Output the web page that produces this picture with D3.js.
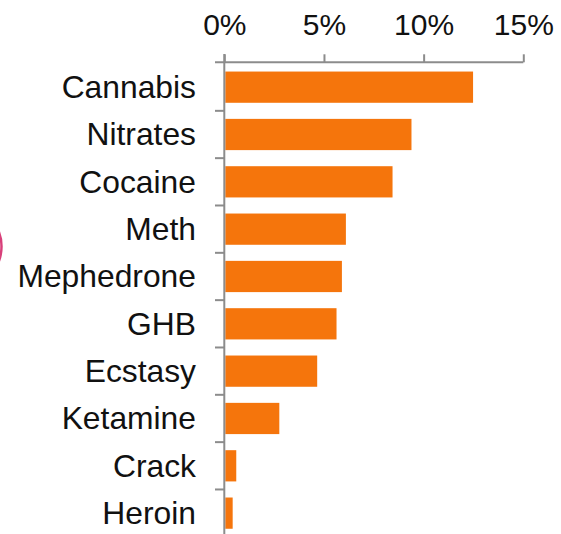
<!DOCTYPE html>
<html><head><meta charset="utf-8">
<script src="https://cdn.jsdelivr.net/npm/d3@7"></script>
<style>body{margin:0;background:#fff}svg{display:block}</style>
</head><body>
<svg id="c" width="561" height="534"></svg>
<script>
const categories = ["Cannabis","Nitrates","Cocaine","Meth","Mephedrone","GHB","Ecstasy","Ketamine","Crack","Heroin"];
const values = [12.48, 9.39, 8.44, 6.1, 5.9, 5.63, 4.66, 2.76, 0.6, 0.42];
const tickValues = [0, 5, 10, 15];

const svg = d3.select("#c");
const x = d3.scaleLinear().domain([0, 15]).range([224.3, 523.3]);
const y = d3.scaleBand().domain(categories).range([63.5, 536.8]).paddingInner(0.34).paddingOuter(0.17);
const axisColor = "#8c8c8c";
const font = "'Liberation Sans', Arial, sans-serif";

// decoration fragment at left edge
svg.append("circle").attr("cx", -38.5).attr("cy", 246.5).attr("r", 40)
  .attr("fill", "none").attr("stroke", "#d8407a").attr("stroke-width", 2.5);

// bars
svg.append("g").selectAll("rect").data(categories).join("rect")
  .attr("x", x(0) + 1)
  .attr("y", d => y(d))
  .attr("width", (d, i) => x(values[i]) - x(0) - 1)
  .attr("height", y.bandwidth())
  .attr("fill", "#f5750c");

// top axis
const gx = svg.append("g").attr("transform", "translate(0,62.3)")
  .call(d3.axisTop(x).tickValues(tickValues).tickFormat(d => d + "%").tickSize(8).tickPadding(19));
gx.select(".domain").attr("stroke", axisColor).attr("stroke-width", 2)
  .attr("d", `M215,0H${x(15)}`);
gx.selectAll(".tick line").attr("stroke", axisColor).attr("stroke-width", 2);
gx.selectAll(".tick text").attr("fill", "#111").style("font-family", font).style("font-size", "30px");

// left axis
const half = (y.step() - y.bandwidth()) / 2;
const bounds = categories.map(d => y(d) - half).concat([y(categories[categories.length - 1]) + y.bandwidth() + half]);
svg.append("line").attr("x1", x(0)).attr("x2", x(0)).attr("y1", 54).attr("y2", 540)
  .attr("stroke", axisColor).attr("stroke-width", 2);
svg.append("g").selectAll("line").data(bounds.slice(1)).join("line")
  .attr("x1", 215).attr("x2", x(0)).attr("y1", d => d).attr("y2", d => d)
  .attr("stroke", axisColor).attr("stroke-width", 2);

// category labels
svg.append("g").selectAll("text").data(categories).join("text")
  .attr("x", 196)
  .attr("y", d => y(d) + y.bandwidth() / 2)
  .attr("dy", "0.34em")
  .attr("text-anchor", "end")
  .attr("fill", "#111")
  .style("font-family", font).style("font-size", "31.8px")
  .text(d => d);
</script>
</body></html>
